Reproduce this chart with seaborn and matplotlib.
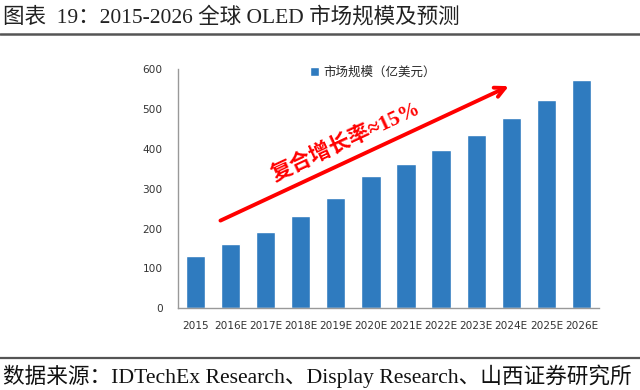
import seaborn as sns
import matplotlib.pyplot as plt
import pandas as pd

# Data
years = ['2015', '2016E', '2017E', '2018E', '2019E', '2020E',
         '2021E', '2022E', '2023E', '2024E', '2025E', '2026E']
market_size = [131, 162, 192, 232, 277, 332, 363, 398, 435, 478, 523, 573]
series_name = '市场规模（亿美元）'
title = '图表  19：2015-2026 全球 OLED 市场规模及预测'
source = '数据来源：IDTechEx Research、Display Research、山西证券研究所'
cagr_text = '复合增长率≈15%'

data = pd.DataFrame({'year': years, 'size': market_size})

sns.set_theme(style="white")
plt.rcParams['font.family'] = ['DejaVu Sans', 'Noto Sans CJK SC']
serif = ['Liberation Serif', 'Noto Sans CJK SC']

fig = plt.figure(figsize=(6.4, 3.9), dpi=100)
ax = fig.add_axes([0.278, 0.2095, 0.658, 0.6135])

sns.barplot(x='year', y='size', data=data, color='#2F7BBF', saturation=1,
            width=0.55, label=series_name, ax=ax)

ax.set_xlim(-0.5, 11.5)
ax.set_ylim(0, 600)
ax.set_yticks(range(0, 601, 100))
ax.set_xlabel('')
ax.set_ylabel('')
ax.tick_params(axis='both', length=0, labelsize=7.6, colors='#333333')
ax.tick_params(axis='y', pad=11)
ax.tick_params(axis='x', pad=9)
for s in ['top', 'right']:
    ax.spines[s].set_visible(False)
for s in ['left', 'bottom']:
    ax.spines[s].set_color('#999999')
    ax.spines[s].set_linewidth(1)

ax.legend(loc='center', bbox_to_anchor=(0.463, 0.985), frameon=False,
          fontsize=9, handlelength=0.7, handleheight=0.7, handletextpad=0.3)

# CAGR arrow and label
ax.annotate('', xy=(9.0, 560), xytext=(0.64, 217),
            arrowprops=dict(arrowstyle='->', color='#FF0000', lw=2.8,
                            mutation_scale=18))
ax.text(4.29, 418, cagr_text, color='#FF0000', fontsize=15.5, fontweight='bold',
        rotation=25, ha='center', va='center', family=serif)

# Title, rules and source
fig.text(0.005, 0.956, title, fontsize=15.5, family=serif, va='center',
         color='#222222')
fig.add_artist(plt.Line2D([0, 1], [0.913, 0.913], color='#555555', lw=1.8))
fig.add_artist(plt.Line2D([0, 1], [0.082, 0.082], color='#555555', lw=1.6))
fig.text(0.005, 0.034, source, fontsize=15.6, family=serif, va='center',
         color='#111111')

fig.savefig('out.png', dpi=100)
